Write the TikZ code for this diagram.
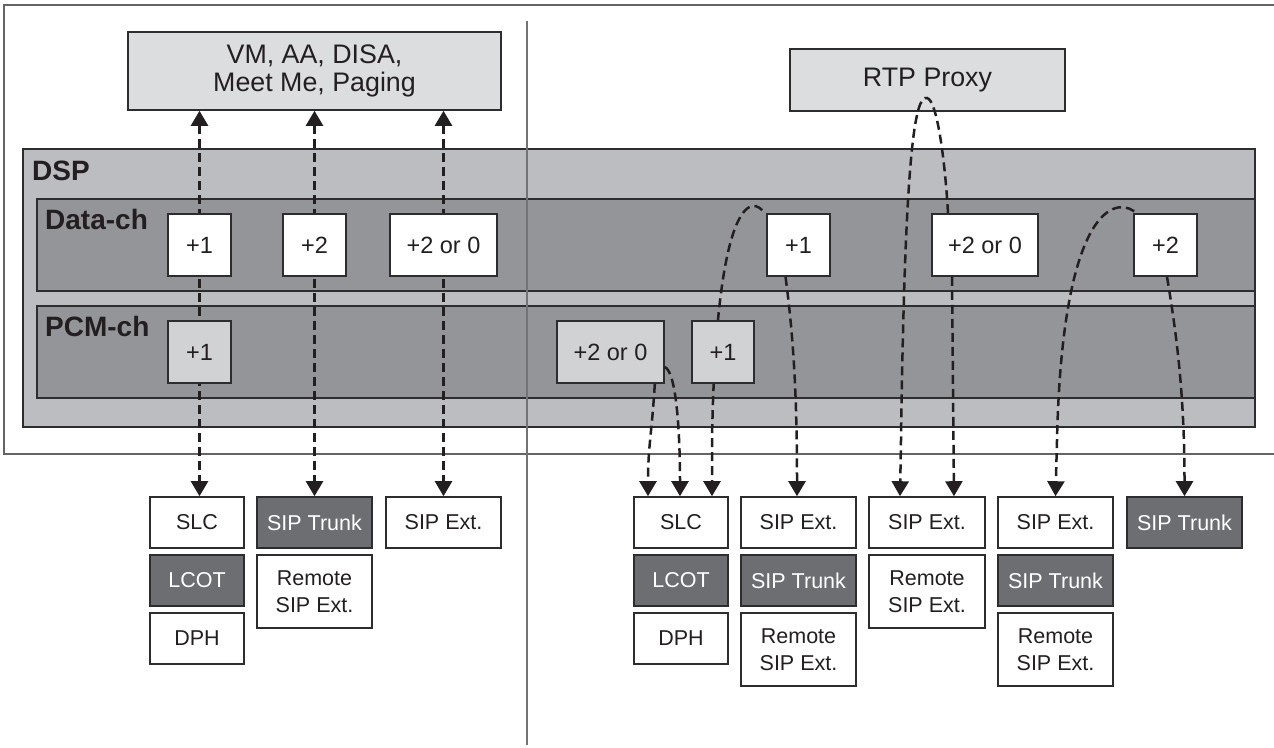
\documentclass[tikz,border=0pt]{standalone}
\usepackage{fontspec}
\setmainfont{Liberation Sans}
\usetikzlibrary{arrows.meta}
\definecolor{ink}{RGB}{35,31,32}
\definecolor{edge}{RGB}{45,45,48}
\definecolor{topfill}{RGB}{220,221,223}
\definecolor{dspfill}{RGB}{188,189,192}
\definecolor{bandfill}{RGB}{147,149,152}
\definecolor{pcmfill}{RGB}{209,210,212}
\definecolor{darkfill}{RGB}{109,110,113}
\definecolor{framegray}{RGB}{100,100,103}
\definecolor{sepgray}{RGB}{115,115,118}
\tikzset{
  box/.style={draw=edge, line width=1.6pt, inner sep=0pt, align=center, text=ink,
    font=\fontsize{21.5}{27}\selectfont},
  light/.style={box, fill=white},
  dark/.style={box, fill=darkfill, text=white},
  topbox/.style={box, fill=topfill, font=\fontsize{26.8}{28}\selectfont},
  chbox/.style={box, fill=white, minimum height=62pt, font=\fontsize{23.5}{27}\selectfont},
  pcmbox/.style={chbox, fill=pcmfill},
  band/.style={draw=edge, line width=1.6pt, fill=bandfill},
  lab/.style={inner sep=0pt, text=ink, font=\fontsize{28}{30}\selectfont\bfseries},
  dl/.style={draw=ink, line width=2.5pt, dash pattern=on 9pt off 5pt},
  tip/.style={-{Triangle[width=17pt,length=15pt]}},
  both/.style={{Triangle[width=17pt,length=15pt]}-{Triangle[width=17pt,length=15pt]}}
}
\begin{document}
\begin{tikzpicture}[x=1pt,y=-1pt]
\useasboundingbox (0,0) rectangle (1274,747);
% outer frame (open to the right)
\draw[framegray, line width=2pt] (1274,5) -- (4,5) -- (4,454) -- (1274,454);
% top boxes
\node[topbox, minimum width=373pt, minimum height=78pt] (vm) at (314.5,71) {VM, AA, DISA,\\Meet Me, Paging};
\node[topbox, minimum width=275pt, minimum height=62pt] (rtp) at (927.5,80) {RTP Proxy};
% DSP and channels
\node[draw=edge, line width=1.6pt, fill=dspfill, minimum width=1232pt, minimum height=278pt, inner sep=0pt] (dsp) at (639,288) {};
\node[band, minimum width=1218pt, minimum height=92pt, inner sep=0pt] (data) at (646,245) {};
\node[band, minimum width=1218pt, minimum height=92pt, inner sep=0pt] (pcm) at (646,352) {};
\node[lab, anchor=base west] (dsplab) at (32,180) {DSP};
\node[lab, anchor=base west] (datalab) at (45,229) {Data-ch};
\node[lab, anchor=base west] (pcmlab) at (45,336) {PCM-ch};
% separator
\draw[sepgray, line width=2pt] (527,21) -- (527,745);
% bottom boxes
\node[light, minimum width=94pt, minimum height=51pt] (aSLC) at (197,522.5) {SLC};
\node[dark, minimum width=94pt, minimum height=51pt] (aLCOT) at (197,580.5) {LCOT};
\node[light, minimum width=94pt, minimum height=51pt] (aDPH) at (197,638.5) {DPH};
\node[dark, minimum width=115pt, minimum height=51pt] (bTrunk) at (314.5,522.5) {SIP Trunk};
\node[light, minimum width=115pt, minimum height=73pt] (bRemote) at (314.5,591.5) {Remote\\SIP Ext.};
\node[light, minimum width=115pt, minimum height=51pt] (cExt) at (443.5,522.5) {SIP Ext.};
\node[light, minimum width=94pt, minimum height=51pt] (dSLC) at (681,522.5) {SLC};
\node[dark, minimum width=94pt, minimum height=51pt] (dLCOT) at (681,580.5) {LCOT};
\node[light, minimum width=94pt, minimum height=51pt] (dDPH) at (681,638.5) {DPH};
\node[light, minimum width=115pt, minimum height=51pt] (eExt) at (798.5,522.5) {SIP Ext.};
\node[dark, minimum width=115pt, minimum height=51pt] (eTrunk) at (798.5,580.5) {SIP Trunk};
\node[light, minimum width=115pt, minimum height=73pt] (eRemote) at (798.5,649.5) {Remote\\SIP Ext.};
\node[light, minimum width=116pt, minimum height=51pt] (fExt) at (927,522.5) {SIP Ext.};
\node[light, minimum width=116pt, minimum height=73pt] (fRemote) at (927,591.5) {Remote\\SIP Ext.};
\node[light, minimum width=115pt, minimum height=51pt] (gExt) at (1055.5,522.5) {SIP Ext.};
\node[dark, minimum width=115pt, minimum height=51pt] (gTrunk) at (1055.5,580.5) {SIP Trunk};
\node[light, minimum width=115pt, minimum height=73pt] (gRemote) at (1055.5,649.5) {Remote\\SIP Ext.};
\node[dark, minimum width=115pt, minimum height=51pt] (hTrunk) at (1184.5,522.5) {SIP Trunk};
% channel box positions (coordinates first so connectors can be drawn beneath)
\coordinate (c1) at (199.5,245);
\coordinate (c2) at (314.5,245);
\coordinate (c3) at (443.5,245);
\coordinate (rtppeak) at (927,98);
% straight connectors (left)
\draw[dl, both] (c1 |- vm.south) -- (c1 |- aSLC.north);
\draw[dl, both] (c2 |- vm.south) -- (c2 |- bTrunk.north);
\draw[dl, both] (c3 |- vm.south) -- (c3 |- cExt.north);
% channel boxes
\node[chbox, minimum width=63pt] (d1) at (c1) {+1};
\node[chbox, minimum width=63pt] (d2) at (c2) {+2};
\node[chbox, minimum width=107pt] (d3) at (c3) {+2 or 0};
\node[chbox, minimum width=63pt] (d4) at (798.5,245) {+1};
\node[chbox, minimum width=106pt] (d5) at (985,245) {+2 or 0};
\node[chbox, minimum width=63pt] (d6) at (1165.5,245) {+2};
\node[pcmbox, minimum width=63pt] (p1) at (199.5,352) {+1};
\node[pcmbox, minimum width=107pt] (p2) at (610.5,352) {+2 or 0};
% curved connectors (right); the one behind p3 is drawn before it
\draw[dl, tip] ([xshift=-4pt,yshift=3pt]d4.north west) .. controls (748,195) and (716,210) .. (712,440) -- ([xshift=31pt]dSLC.north);
\node[pcmbox, minimum width=62pt] (p3) at (723,352) {+1};
\draw[dl, tip] ([xshift=-10pt]p2.south east) .. controls +(-3,50) and +(0,-50) .. ([xshift=-33pt]dSLC.north);
\draw[dl, tip] ([yshift=-15pt]p2.east) .. controls +(12,5) and +(0,-60) .. ([xshift=-1pt]dSLC.north);
\draw[dl, tip] ([xshift=-13pt]d4.south) .. controls +(8,60) and +(0,-100) .. ([xshift=-1.5pt]eExt.north);
\draw[dl, tip] ([xshift=-37pt]d5.north) .. controls (945,160) and (937,100) .. (rtppeak) .. controls (915,95) and (905,150) .. (901,440) -- ([xshift=-27pt]fExt.north);
\draw[dl, tip] ([xshift=-33pt]d5.south) -- ([xshift=27pt]fExt.north);
\draw[dl, tip] ([xshift=1pt,yshift=2pt]d6.north west) .. controls (1110,195) and (1062,220) .. (1057,440) -- (gExt.north);
\draw[dl, tip] ([xshift=1.5pt]d6.south) .. controls +(10,60) and +(0,-100) .. (hTrunk.north);
\end{tikzpicture}
\end{document}
